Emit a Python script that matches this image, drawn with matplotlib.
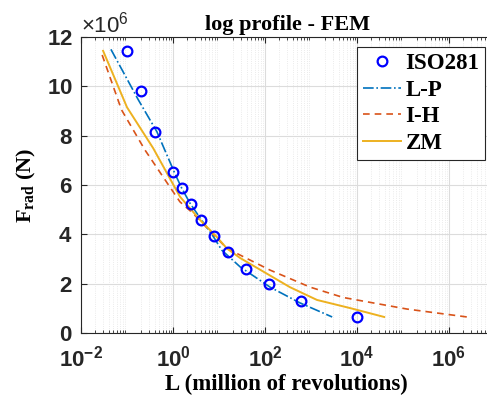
import numpy as np
import matplotlib
matplotlib.use("Agg")
import matplotlib.pyplot as plt
from matplotlib.ticker import LogLocator, LogFormatterSciNotation, ScalarFormatter

plt.rcParams['font.family'] = ['Liberation Sans', 'DejaVu Sans']
plt.rcParams['mathtext.fontset'] = 'custom'
plt.rcParams['mathtext.rm'] = 'Liberation Sans'

# ISO 281 points
L_iso = [0.1, 0.2, 0.4, 1.0, 1.6, 2.5, 4.0, 7.8, 16, 39, 123, 600, 1.0e4]
F_iso = [11.43e6, 9.81e6, 8.15e6, 6.53e6, 5.88e6, 5.23e6, 4.58e6, 3.93e6,
         3.28e6, 2.59e6, 1.99e6, 1.30e6, 0.65e6]

# L-P model
L_lp = [10**-1.35, 10**-0.75, 10**-0.35, 10**0.04, 10**0.19, 10**0.37,
        10**0.62, 10**0.88, 10**1.06, 10**1.46, 10**2.11, 10**2.76, 10**3.46]
F_lp = [11.5e6, 9.44e6, 8.16e6, 6.47e6, 5.87e6, 5.26e6,
        4.58e6, 3.9e6, 3.36e6, 2.68e6, 1.86e6, 1.22e6, 0.65e6]

# I-H model
L_ih = [10**-1.54, 10**-1.12, 10**-0.61, 10**-0.22, 10**0.15, 10**0.43,
        10**1.17, 10**2.11, 10**2.98, 10**3.7, 10**5.09, 10**6.39]
F_ih = [11.27e6, 9.05e6, 7.42e6, 6.34e6, 5.32e6, 4.86e6,
        3.43e6, 2.55e6, 1.86e6, 1.44e6, 0.97e6, 0.65e6]

# ZM model
L_zm = [10**-1.52, 10**-1.0, 10**-0.43, 10**0.15, 10**0.59,
        10**0.95, 10**1.17, 10**1.46, 10**2.54, 10**3.13, 10**3.85, 10**4.59]
F_zm = [11.44e6, 9.15e6, 7.49e6, 5.53e6, 4.58e6,
        3.9e6, 3.43e6, 3.04e6, 1.86e6, 1.34e6, 1.01e6, 0.65e6]

fig = plt.figure(figsize=(4.87, 4.03), dpi=100)
# axes run past the right edge (xlim up to 1e8)
ax = fig.add_axes([81 / 487, 70 / 403, 460 / 487, 296 / 403])

ax.plot(L_iso, F_iso, 'o', mfc='none', mec=(0, 0, 1), ms=7, mew=1.6,
        label='ISO281', zorder=5)
ax.plot(L_lp, F_lp, '-.', color=(0, 0.447, 0.741), lw=1.2, label='L-P')
ax.plot(L_ih, F_ih, '--', color=(0.85, 0.325, 0.098), lw=1.2, label='I-H',
        dashes=(4, 3))
ax.plot(L_zm, F_zm, '-', color=(0.929, 0.694, 0.125), lw=1.4, label='ZM')

ax.set_xscale('log')
ax.set_xlim(1e-2, 1e8)
ax.set_ylim(0, 12e6)
ax.set_xticks([1e-2, 1, 1e2, 1e4, 1e6])
ax.xaxis.set_major_formatter(LogFormatterSciNotation())
ax.xaxis.set_minor_locator(LogLocator(base=10, subs=np.arange(2, 10), numticks=20))
ax.set_yticks(np.arange(0, 13e6, 2e6))
fmt = ScalarFormatter(useMathText=True)
fmt.set_powerlimits((6, 6))
ax.yaxis.set_major_formatter(fmt)

# grid like the MATLAB defaults
ax.grid(True, which='major', color='#dcdcdc', lw=0.8)
ax.grid(True, which='minor', axis='x', color='#e4e4e4', lw=0.6, ls=':')
ax.set_axisbelow(True)

ax.tick_params(which='both', direction='in', top=True, right=False,
               labelsize=16, colors='#262626', pad=6)
ax.tick_params(axis='x', which='major', pad=9)
ax.tick_params(which='major', length=4)
ax.tick_params(which='minor', length=2)
for lab in ax.get_xticklabels() + ax.get_yticklabels():
    lab.set_fontweight('bold')
ax.yaxis.get_offset_text().set_fontsize(16)
ax.yaxis.get_offset_text().set_color('#262626')
for s in ax.spines.values():
    s.set_color('#262626')
    s.set_linewidth(0.8)

serif = 'Liberation Serif'
ax.set_title('log profile - FEM', family=serif, fontweight='bold', fontsize=16,
             x=(288 - 81) / 460, pad=5)
ax.set_xlabel('L (million of revolutions)', family=serif, fontweight='bold',
              fontsize=16.5, x=(286 - 81) / 460, labelpad=2)
ax.set_ylabel(r'F$_{\mathdefault{rad}}$ (N)', family=serif, fontweight='bold',
              fontsize=16, labelpad=6)

leg = ax.legend(loc='upper right', bbox_to_anchor=(485 / 487, 356 / 403),
                bbox_transform=fig.transFigure, borderaxespad=0,
                fancybox=False, framealpha=1, edgecolor='#262626',
                handlelength=1.65, labelspacing=0.25, borderpad=0.25,
                handletextpad=0.2,
                prop={'family': serif, 'weight': 'bold', 'size': 16.5})
leg.get_frame().set_linewidth(0.8)

fig.savefig('out.png', dpi=100)
